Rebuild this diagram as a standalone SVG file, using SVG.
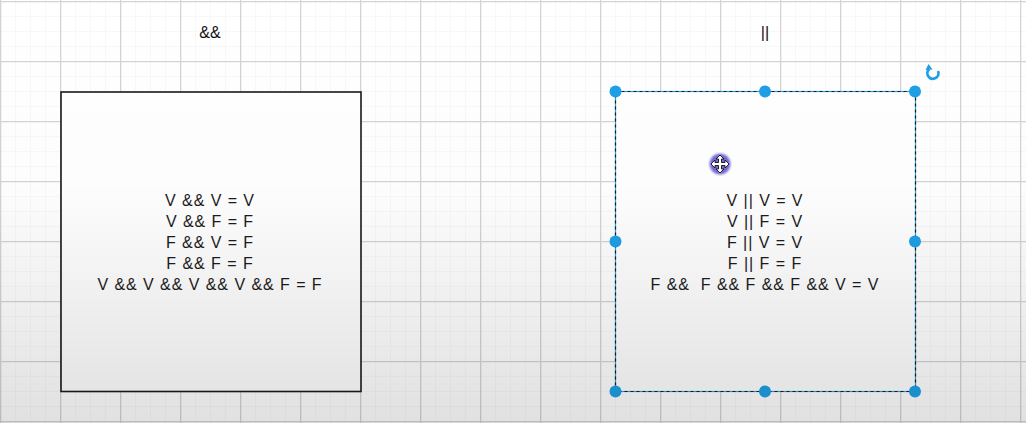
<svg xmlns="http://www.w3.org/2000/svg" width="1026" height="423" viewBox="0 0 1026 423">
  <style>
    .t { font-family: "Liberation Sans", Arial, sans-serif; font-size: 16px; fill: #1c1c1c; text-anchor: middle; letter-spacing: 0.95px; white-space: pre; }
    .title { font-family: "Liberation Sans", Arial, sans-serif; font-size: 16px; fill: #111111; text-anchor: middle; }
    .box { fill: #ffffff; stroke: #1a1a1a; stroke-width: 1.6; }
    .sel { fill: #ffffff; stroke: #2a9fe0; stroke-width: 1.2; }
    .seldash { fill: none; stroke: #1a1a1a; stroke-width: 1.2; stroke-dasharray: 3 3; }
    .handle { fill: #1ea0e6; }
  </style>
  <defs>
    <pattern id="minor" x="0" y="1" width="15" height="15" patternUnits="userSpaceOnUse">
      <path d="M0 0 H15 M0 0 V15" fill="none" stroke="#f2f2f2" stroke-width="1"/>
    </pattern>
    <pattern id="major" x="0" y="1" width="60" height="60" patternUnits="userSpaceOnUse">
      <path d="M0 0.5 H60 M0.5 0 V60" fill="none" stroke="#d4d4d4" stroke-width="1.6"/>
    </pattern>
    <linearGradient id="shade" x1="0" y1="0" x2="0" y2="1">
      <stop offset="0" stop-color="#000000" stop-opacity="0"/>
      <stop offset="0.45" stop-color="#000000" stop-opacity="0.01"/>
      <stop offset="1" stop-color="#000000" stop-opacity="0.12"/>
    </linearGradient>
    <filter id="blur" x="-50%" y="-50%" width="200%" height="200%">
      <feGaussianBlur stdDeviation="1"/>
    </filter>
  </defs>

  <g id="background">
    <rect x="0" y="0" width="1026" height="423" fill="#ffffff"/>
    <rect x="0" y="0" width="1026" height="423" fill="url(#minor)"/>
    <rect x="0" y="0" width="1026" height="423" fill="url(#major)"/>
  </g>

  <g id="connectors"></g>

  <g id="node-and-title">
    <text class="title" x="210" y="38">&amp;&amp;</text>
  </g>

  <g id="node-or-title">
    <text class="title" x="765" y="38" font-size="17">||</text>
  </g>

  <g id="node-and-box">
    <rect class="box" x="61" y="92" width="300" height="299.5"/>
    <text class="t" x="210" y="206">V &amp;&amp; V = V</text>
    <text class="t" x="210" y="227">V &amp;&amp; F = F</text>
    <text class="t" x="210" y="248">F &amp;&amp; V = F</text>
    <text class="t" x="210" y="269">F &amp;&amp; F = F</text>
    <text class="t" x="210" y="289.5">V &amp;&amp; V &amp;&amp; V &amp;&amp; V &amp;&amp; F = F</text>
  </g>

  <g id="node-or-box">
    <rect class="sel" x="615.5" y="91.5" width="300" height="300"/>
    <rect class="seldash" x="615.5" y="91.5" width="300" height="300"/>
    <text class="t" x="765" y="206">V || V = V</text>
    <text class="t" x="765" y="227">V || F = V</text>
    <text class="t" x="765" y="248">F || V = V</text>
    <text class="t" x="765" y="269">F || F = F</text>
    <text class="t" x="765" y="289.5">F &amp;&amp;  F &amp;&amp; F &amp;&amp; F &amp;&amp; V = V</text>
  </g>

  <g id="selection-handles">
    <circle class="handle" cx="615.5" cy="91.5" r="6"/>
    <circle class="handle" cx="765" cy="91.5" r="6"/>
    <circle class="handle" cx="915" cy="91.5" r="6"/>
    <circle class="handle" cx="615.5" cy="241.5" r="6"/>
    <circle class="handle" cx="915" cy="241.5" r="6"/>
    <circle class="handle" cx="615.5" cy="391.5" r="6"/>
    <circle class="handle" cx="765" cy="391.5" r="6"/>
    <circle class="handle" cx="915" cy="391.5" r="6"/>
  </g>

  <g id="rotate-handle">
    <path d="M 929.2 69.2 A 5.5 5.5 0 1 0 938.3 72" fill="none" stroke="#1ea0e6" stroke-width="2.6"/>
    <path d="M 938.3 72.5 A 5.5 5.5 0 0 0 937.5 70" fill="none" stroke="#1ea0e6" stroke-width="2.6" stroke-dasharray="1.5 1.5"/>
    <polygon points="925.5,70 928.5,64 932.5,69.5" fill="#1ea0e6"/>
  </g>

  <g id="move-cursor">
    <circle cx="720" cy="164" r="10.5" fill="#5a4fd0" opacity="0.85" filter="url(#blur)"/>
    <polygon points="720,155 724,159 721.5,159 721.5,162.5 725,162.5 725,160 729,164 725,168 725,165.5 721.5,165.5 721.5,169 724,169 720,173 716,169 718.5,169 718.5,165.5 715,165.5 715,168 711,164 715,160 715,162.5 718.5,162.5 718.5,159 716,159" fill="#ffffff" stroke="#111111" stroke-width="0.9" stroke-linejoin="miter"/>
  </g>

  <rect id="shade-overlay" x="0" y="0" width="1026" height="423" fill="url(#shade)" pointer-events="none"/>
</svg>
